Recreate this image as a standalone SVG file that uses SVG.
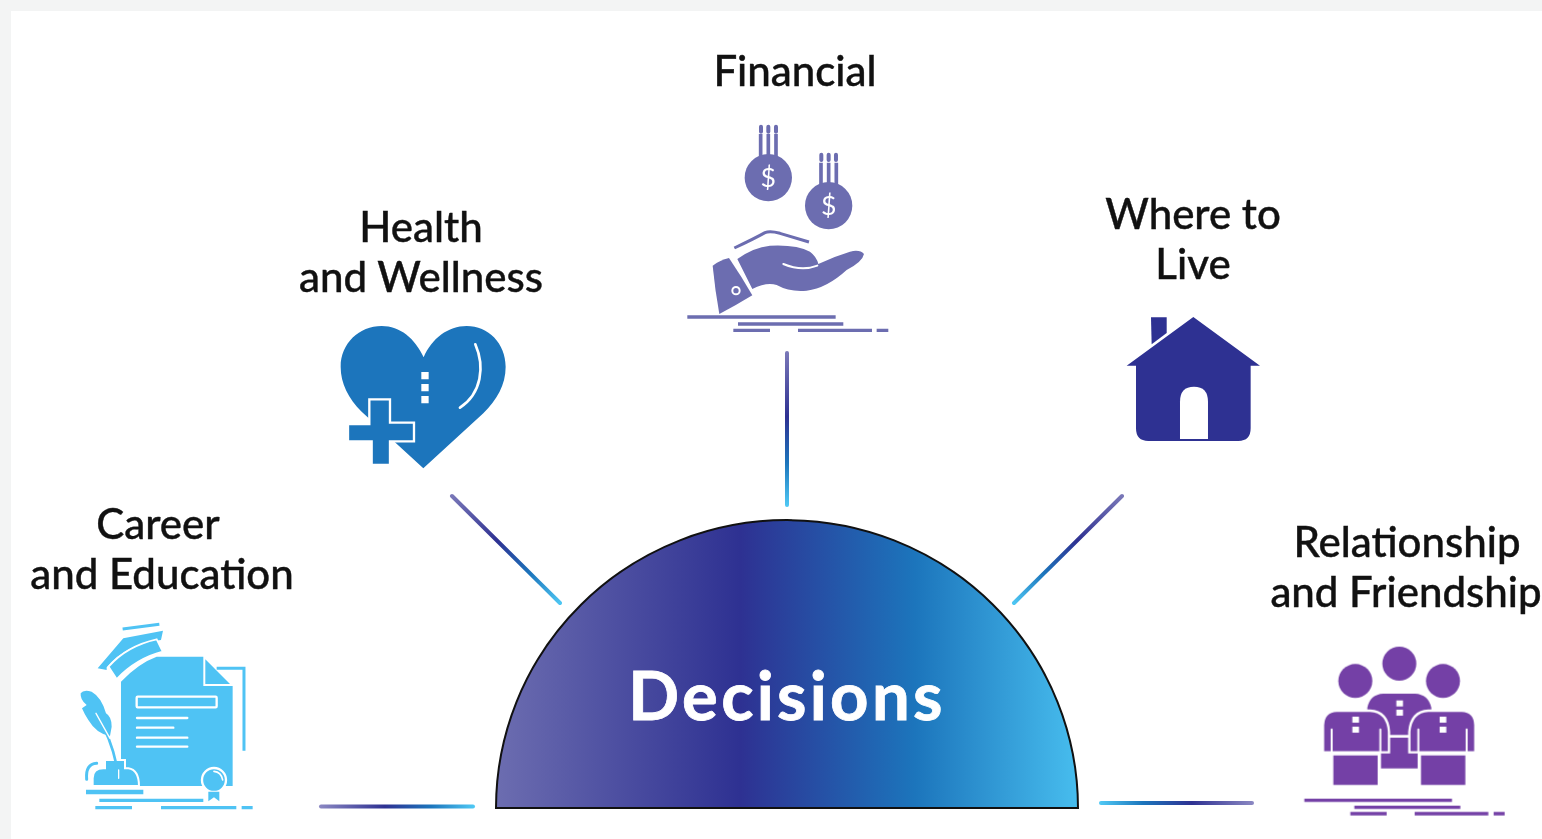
<svg xmlns="http://www.w3.org/2000/svg" width="1542" height="839" viewBox="0 0 1542 839">
<style>
text{font-family:Lato,"Liberation Sans",sans-serif;font-size:42px;fill:#111;stroke:#111;stroke-width:.4;text-anchor:middle;font-weight:500}
.w{stroke:#fff;fill:none;stroke-linecap:round}
.cr{fill:#4fc3f4}.crl{stroke:#4fc3f4;fill:none}
.ln{fill:none;stroke-width:4;stroke-linecap:round}
</style>
<defs>
<filter id="soft" filterUnits="userSpaceOnUse" x="0" y="0" width="1542" height="839" color-interpolation-filters="sRGB"><feGaussianBlur stdDeviation=".55"/></filter>
<linearGradient id="dome" x1="0" x2="1" y1="0" y2="0"><stop offset="0" stop-color="#6c6db0"/><stop offset=".42" stop-color="#2e3192"/><stop offset=".72" stop-color="#1c75bc"/><stop offset="1" stop-color="#47bdee"/></linearGradient>
<linearGradient id="h1" gradientUnits="userSpaceOnUse" x1="320" y1="0" x2="474" y2="0"><stop offset="0" stop-color="#8a87c2"/><stop offset=".42" stop-color="#2e3192"/><stop offset=".72" stop-color="#1c75bc"/><stop offset="1" stop-color="#4fc8f4"/></linearGradient>
<linearGradient id="h2" gradientUnits="userSpaceOnUse" x1="1100" y1="0" x2="1253" y2="0"><stop offset="0" stop-color="#4fc8f4"/><stop offset=".28" stop-color="#1c75bc"/><stop offset=".6" stop-color="#2e3192"/><stop offset="1" stop-color="#8a87c2"/></linearGradient>
<linearGradient id="d1" gradientUnits="userSpaceOnUse" x1="451" y1="495" x2="561" y2="604"><stop offset="0" stop-color="#7a78b8"/><stop offset=".42" stop-color="#2e3192"/><stop offset=".72" stop-color="#1c75bc"/><stop offset="1" stop-color="#4fc8f4"/></linearGradient>
<linearGradient id="d2" gradientUnits="userSpaceOnUse" x1="1123" y1="495" x2="1013" y2="604"><stop offset="0" stop-color="#7a78b8"/><stop offset=".42" stop-color="#2e3192"/><stop offset=".72" stop-color="#1c75bc"/><stop offset="1" stop-color="#4fc8f4"/></linearGradient>
<linearGradient id="v" gradientUnits="userSpaceOnUse" x1="0" y1="352" x2="0" y2="506"><stop offset="0" stop-color="#7a78b8"/><stop offset=".42" stop-color="#2e3192"/><stop offset=".72" stop-color="#1c75bc"/><stop offset="1" stop-color="#4fc8f4"/></linearGradient>
</defs>
<rect width="1542" height="839" fill="#f3f4f4"/>
<rect x="11" y="11" width="1531" height="828" fill="#fff"/>
<g filter="url(#soft)">
<g id="connectors">
<path class="ln" stroke="url(#h1)" d="M321 806.5H473"/>
<path class="ln" stroke="url(#h2)" d="M1101 803H1252"/>
<path class="ln" stroke="url(#d1)" d="M452 496L560 603"/>
<path class="ln" stroke="url(#d2)" d="M1122 496L1014 603"/>
<path class="ln" stroke="url(#v)" d="M787 353V505"/>
</g>

<g id="decisions">
<path d="M496 808A291 288 0 0 1 1078 808Z" fill="url(#dome)" stroke="#111" stroke-width="2"/>
<text x="787" y="720" style="font-size:67px;font-weight:700;fill:#fff;stroke:#fff;stroke-width:.8;letter-spacing:3.3px">Decisions</text>
</g>

<g id="career">
<text x="158" y="538.6">Career</text>
<text x="162" y="588.6">and Education</text>
<g transform="translate(60 610) scale(.3333)">
<path class="crl" stroke-width="9" d="M470 175H552V422"/>
<path class="cr" d="M183 215Q235 160 290 140H430V228H518V528H183Z"/>
<path class="cr" d="M436 148L510 222H436Z"/>
<rect x="230" y="260" width="240" height="32" rx="3" class="cr" stroke="#fff" stroke-width="7"/>
<path class="w" stroke-width="7" d="M231 324H382M231 353H340M231 383H382M231 410H382"/>
<circle cx="462" cy="510" r="36" class="cr" stroke="#fff" stroke-width="7"/>
<path class="w" stroke-width="5" d="M462 484Q484 486 488 510"/>
<path class="cr" d="M445 545H478V574L462 562 445 574Z"/>
<path class="cr" d="M113 175L190 85 309 62 303 90Q200 100 140 172V180Z"/>
<path class="cr" stroke="#fff" stroke-width="5" d="M146 170Q200 108 290 88L308 125Q230 145 170 207Z"/>
<path class="crl" stroke-width="9" d="M188 57L298 43"/>
<path class="cr" stroke="#fff" stroke-width="6" d="M98 528V505Q98 475 130 475H135V450H195V475H205Q237 480 237 528Z"/>
<path class="crl" stroke-width="9" stroke-linecap="round" d="M80 508Q76 462 110 460"/>
<path class="cr" d="M62 250Q70 238 95 245Q125 262 138 310Q155 320 155 350L150 378Q110 372 85 330Q72 310 66 295L80 285Q60 270 62 250Z"/>
<path class="crl" stroke-width="8" d="M130 350Q165 420 176 505"/>
<path class="w" stroke-width="4" d="M108 310L150 385M176 480V505"/>
<path class="crl" stroke-width="14" d="M78 546H250"/>
<path class="crl" stroke-width="10" d="M118 571H430M106 593H216M303 593H529M545 593H578"/>
</g>
</g>

<g id="health">
<text x="421" y="241.6">Health</text>
<text x="421" y="291.6">and Wellness</text>
<g transform="translate(320 310) scale(.3333)">
<path fill="#1c75bc" d="M310 475L125 305C85 265 62 220 62 170C62 100 118 48 185 48C240 48 285 85 311 142C335 85 385 48 440 48C505 48 557 100 557 170C557 225 530 270 490 310Z"/>
<path fill="#1c75bc" stroke="#fff" stroke-width="7" d="M148 268H210V338H282V394H210V465H155V394H84V342H148Z"/>
<path fill="#fff" d="M304 186h22v22h-22zM304 222h22v22h-22zM304 258h22v22h-22z"/>
<path class="w" stroke-width="8" d="M466 103C495 170 485 250 420 293"/>
</g>
</g>

<g id="financial">
<text x="795" y="86">Financial</text>
<g transform="translate(670 110) scale(.3333)" fill="#6c6db0">
<circle cx="295" cy="203" r="71"/>
<circle cx="476" cy="287" r="71"/>
<g fill="none" stroke="#6c6db0" stroke-width="11">
<path d="M272 138V72M295 138V72M318 138V72M453 222V158M476 222V158M499 222V158"/>
<path stroke-width="12" stroke-linecap="round" d="M273 50V65M295 50V65M318 50V65M454 134V150M476 134V150M498 134V150"/>
<path stroke-width="9" d="M193 414Q255 385 285 368Q300 362 330 370L417 396"/>
<path stroke-width="10" d="M52 621H497M204 642H520M190 661H300M384 661H606M620 661H655"/>
</g>
<path d="M128 467Q150 450 177 444Q215 500 247 556Q200 585 148 612Q135 540 128 467Z"/>
<path d="M202 447Q250 412 300 407Q380 403 420 425Q440 440 445 462Q490 440 540 425Q570 418 582 432Q578 455 530 480Q470 535 410 542Q360 547 320 525Q290 515 247 537Z"/>
<path class="w" stroke-width="6" d="M340 462Q395 485 442 467"/>
<circle cx="198" cy="542" r="11" fill="none" stroke="#fff" stroke-width="6"/>
<text x="295" y="231" style="font-size:80px;fill:#fff;stroke:none;font-weight:400">$</text>
<text x="476" y="315" style="font-size:80px;fill:#fff;stroke:none;font-weight:400">$</text>
</g>
</g>

<g id="where">
<text x="1193" y="228.8">Where to</text>
<text x="1193" y="278.8">Live</text>
<g transform="translate(1110 305) scale(.3333)">
<path fill="#2e3192" d="M123 37H170V84L125 118Z"/>
<path fill="#2e3192" d="M250 36L450 182H422V370Q422 408 385 408H115Q78 408 78 370V182H50Z"/>
<path fill="#fff" d="M210 402V290Q210 245 252 245Q294 245 294 290V402Z"/>
</g>
</g>

<g id="relationship">
<text x="1407" y="556.5">Relationship</text>
<text x="1406" y="606.5">and Friendship</text>
<g transform="translate(1295 635) scale(.3333)" fill="#7440a6">
<circle cx="313" cy="86" r="51"/>
<circle cx="181" cy="138" r="51"/>
<circle cx="444" cy="138" r="51"/>
<path d="M217 218Q225 178 265 176H360Q400 178 409 218H217Z"/>
<path d="M258 308H368V400H258Z"/>
<path d="M217 218H409V300H217Z"/>
<path stroke="#fff" stroke-width="7" d="M84 350V270Q86 228 125 227H225Q278 230 282 290V352H84Z"/>
<path stroke="#fff" stroke-width="7" d="M343 352V290Q348 230 400 227H500Q540 228 541 270V352Z"/>
<path class="w" stroke-width="6" stroke-linecap="butt" d="M110 283V350M256 283V350M370 283V350M515 283V350"/>
<path d="M115 361H248V450H115ZM378 361H511V450H378Z"/>
<g fill="#fff">
<path d="M304 196h20v18h-20zM304 224h20v18h-20zM172 245h20v18h-20zM172 275h20v18h-20zM434 245h20v18h-20zM434 275h20v18h-20z"/>
</g>
<path fill="none" stroke="#7440a6" stroke-width="10" d="M28 496H471M178 517H496M166 536H275M359 536H580M596 536H629"/>
</g>
</g>
</g>
</svg>
